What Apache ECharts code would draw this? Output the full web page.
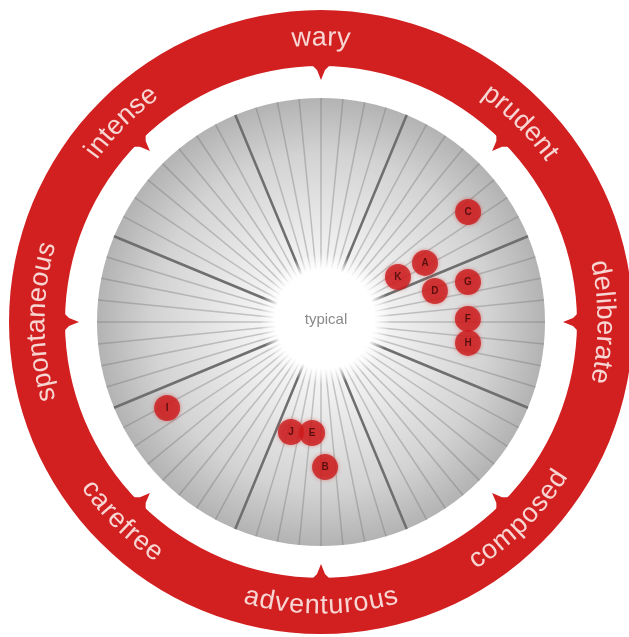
<!DOCTYPE html>
<html>
<head>
<meta charset="utf-8">
<script src="https://cdn.jsdelivr.net/npm/echarts@6/dist/echarts.min.js"></script>
<style>
  html, body { margin: 0; padding: 0; background: #fff; }
  #chart { width: 629px; height: 637px; }
</style>
</head>
<body>
<div id="chart"></div>
<script>
// point labels and their place on the dial (radius in % of disc, angle in degrees, 0 = right, anticlockwise)
const pointNames  = ['A', 'B', 'C', 'D', 'E', 'F', 'G', 'H', 'I', 'J', 'K'];
const pointRadius = [53.4, 64.8, 82.0, 52.7, 49.7, 65.6, 68.0, 66.3, 78.7, 50.9, 39.8];
const pointAngle  = [29.6, 271.6, 36.8, 15.2, 265.4, 1.2, 15.2, 351.9, 209.2, 254.7, 30.3];

// words round the outer ring
const ringLabels = ['deliberate', 'prudent', 'wary', 'intense', 'spontaneous', 'carefree', 'adventurous', 'composed'];
const ringAngles = [0, 45, 90, 135, 180, 225, 270, 315];

const centerLabel = 'typical';

const cx = 321, cy = 322;
const discR = 224;
const ringR0 = 256, ringR = 312;
const textR = 284;
const red = '#d21f20';
const font = '27px "Liberation Sans", Arial, sans-serif';

const chart = echarts.init(document.getElementById('chart'));

// measure glyphs so the words can bend along the ring
const ctx = document.createElement('canvas').getContext('2d');
ctx.font = font;

function arcText(label, angleDeg) {
  const top = angleDeg >= 0 && angleDeg <= 180;
  const chars = label.split('');
  const widths = chars.map(c => ctx.measureText(c).width + 0.6);
  const total = widths.reduce((a, b) => a + b, 0);
  const theta = angleDeg * Math.PI / 180;
  let cur = top ? theta + total / textR / 2 : theta - total / textR / 2;
  const out = [];
  chars.forEach((c, i) => {
    const half = widths[i] / 2 / textR;
    const mid = top ? cur - half : cur + half;
    out.push({
      type: 'text',
      x: cx + textR * Math.cos(mid),
      y: cy - textR * Math.sin(mid),
      rotation: top ? mid - Math.PI / 2 : mid + Math.PI / 2,
      z: 5,
      style: {
        text: c,
        font: font,
        fill: '#f7d6d3',
        align: 'center',
        verticalAlign: 'middle'
      }
    });
    cur = top ? cur - 2 * half : cur + 2 * half;
  });
  return out;
}

function arrow(angleDeg) {
  const t = angleDeg * Math.PI / 180;
  const ux = Math.cos(t), uy = -Math.sin(t);
  const vx = -uy, vy = ux;
  const p = (r, s) => [cx + r * ux + s * vx, cy + r * uy + s * vy];
  return {
    type: 'polygon',
    z: -1,
    shape: { points: [p(ringR0 + 3, -11), p(ringR0 - 4, -4), p(ringR0 - 14, 0), p(ringR0 - 4, 4), p(ringR0 + 3, 11)] },
    style: { fill: red }
  };
}

const graphics = [
  {
    type: 'circle',
    z: -2,
    shape: { cx: cx, cy: cy, r: discR },
    style: {
      fill: new echarts.graphic.RadialGradient(0.5, 0.5, 0.5, [
        { offset: 0, color: '#ffffff' },
        { offset: 0.3, color: '#f2f2f2' },
        { offset: 0.75, color: '#d3d3d3' },
        { offset: 1, color: '#b3b3b3' }
      ])
    }
  },
  {
    type: 'ring',
    z: -1,
    shape: { cx: cx, cy: cy, r: ringR, r0: ringR0 },
    style: { fill: red }
  },
  {
    type: 'circle',
    z: 1,
    shape: { cx: cx + 4, cy: cy - 3, r: 66 },
    style: {
      fill: new echarts.graphic.RadialGradient(0.5, 0.5, 0.5, [
        { offset: 0, color: 'rgba(255,255,255,1)' },
        { offset: 0.75, color: 'rgba(255,255,255,1)' },
        { offset: 1, color: 'rgba(255,255,255,0)' }
      ])
    }
  },
  {
    type: 'text',
    z: 3,
    x: cx + 5,
    y: cy - 2,
    style: {
      text: centerLabel,
      font: '15px "Liberation Sans", Arial, sans-serif',
      fill: '#8a8a8a',
      align: 'center',
      verticalAlign: 'middle'
    }
  }
];

ringAngles.forEach(a => graphics.push(arrow(a)));
ringLabels.forEach((l, i) => graphics.push(...arcText(l, ringAngles[i])));

const hidden = { show: false };

const option = {
  backgroundColor: '#ffffff',
  animation: false,
  polar: [
    { center: [cx, cy], radius: discR },
    { center: [cx, cy], radius: discR }
  ],
  angleAxis: [
    {
      polarIndex: 0,
      type: 'value',
      min: 0,
      max: 360,
      interval: 5.625,
      startAngle: 0,
      clockwise: false,
      axisLine: hidden,
      axisTick: hidden,
      axisLabel: hidden,
      splitLine: { show: true, lineStyle: { color: 'rgba(110,110,110,0.35)', width: 1.5 } },
      z: 0
    },
    {
      polarIndex: 1,
      type: 'value',
      min: 0,
      max: 360,
      interval: 45,
      startAngle: 22.5,
      clockwise: false,
      axisLine: hidden,
      axisTick: hidden,
      axisLabel: hidden,
      splitLine: { show: true, lineStyle: { color: '#6f6f6f', width: 2.5 } },
      z: 0
    }
  ],
  radiusAxis: [
    { polarIndex: 0, min: 0, max: 100, axisLine: hidden, axisTick: hidden, axisLabel: hidden, splitLine: hidden },
    { polarIndex: 1, min: 0, max: 100, axisLine: hidden, axisTick: hidden, axisLabel: hidden, splitLine: hidden }
  ],
  graphic: graphics,
  series: [
    {
      type: 'scatter',
      coordinateSystem: 'polar',
      polarIndex: 0,
      z: 10,
      symbol: 'circle',
      symbolSize: 26,
      itemStyle: {
        color: '#cc1a1c',
        shadowBlur: 4,
        shadowColor: 'rgba(210,30,30,0.55)'
      },
      label: {
        show: true,
        position: 'inside',
        formatter: p => p.name,
        color: '#3e0606',
        fontSize: 10,
        fontWeight: 'bold',
        fontFamily: '"Liberation Sans", Arial, sans-serif'
      },
      data: pointNames.map((n, i) => ({ name: n, value: [pointRadius[i], pointAngle[i]] }))
    }
  ]
};

chart.setOption(option);
</script>
</body>
</html>
